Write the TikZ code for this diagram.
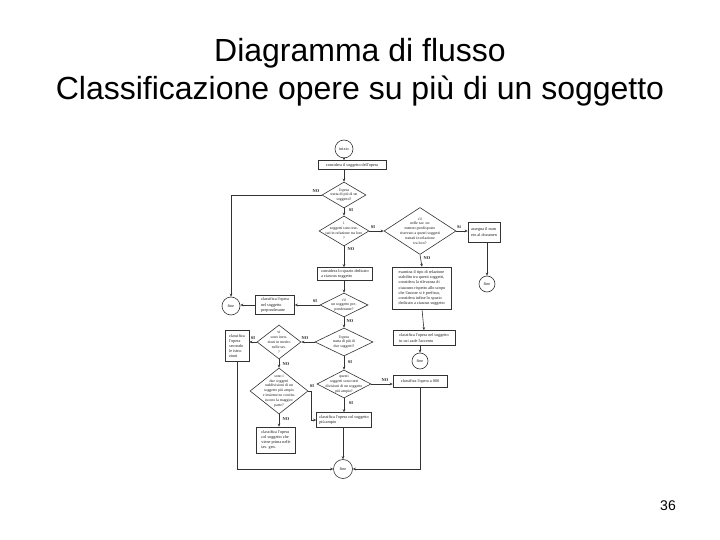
\documentclass[tikz,border=0pt]{standalone}
\usepackage{fontspec}
\setmainfont{Liberation Sans}
\newfontfamily\scanfont{Liberation Serif}
\usetikzlibrary{shapes.geometric,arrows.meta}
\begin{document}
\begin{tikzpicture}[x=1pt,y=-1pt,
  every node/.style={inner sep=0pt},
  fc/.style={font=\scanfont\fontsize{4.2}{5.2}\selectfont, text=black!90},
  fbox/.style={draw=black!80, fc, line width=0.6pt, inner xsep=1.2pt, align=left},
  dia/.style={diamond, draw=black!80, line width=0.6pt},
  dtext/.style={font=\scanfont\fontsize{3.9}{4.9}\selectfont, text=black!90, align=center},
  term/.style={circle, draw=black!80, line width=0.6pt, fc},
  lab/.style={font=\scanfont\bfseries\fontsize{4.4}{4.4}\selectfont, text=black!90},
  conn/.style={draw=black!80, line width=0.6pt, -{Stealth[length=3pt,width=2.6pt]}},
  ]
\fill[white] (0,0) rectangle (720,540);
\useasboundingbox (0,0) rectangle (720,540);

% title and page number
\node[font=\fontsize{32}{38}\selectfont, anchor=base] (t1) at (360,62) {Diagramma di flusso};
\node[font=\fontsize{32}{38}\selectfont, anchor=base] (t2) at (360,100) {Classificazione opere su più di un soggetto};
\node[font=\fontsize{14}{16}\selectfont, anchor=base] (pg) at (668,510) {36};

% terminals
\node[term, minimum size=18] (ini) at (344,149) {inizio};
\node[term, minimum size=18] (f0) at (231,306) {fine};
\node[term, minimum size=16] (f1) at (487,284) {fine};
\node[term, minimum size=16] (f2) at (420,361) {fine};
\node[term, minimum size=19] (f3) at (343,469) {fine};

% boxes
\node[fbox, minimum width=68, minimum height=9] (b1) at (352,165) {considera il soggetto dell'opera};
\node[fbox, minimum width=32, minimum height=20] (b2) at (484,232) {assegna il num\\ero al documen};
\node[fbox, minimum width=59, minimum height=42] (b3) at (422,288) {esamina il tipo di relazione\\stabilito tra questi soggetti,\\considera la rilevanza di\\ciascuno rispetto allo scopo\\che l'autore si è prefisso,\\considera infine lo spazio\\dedicato a ciascun soggetto};
\node[fbox, minimum width=62, minimum height=15] (b4) at (424,338) {classifica l'opera nel soggetto\\in cui cade l'accento};
\node[fbox, minimum width=55, minimum height=13] (b5) at (345,274) {considera lo spazio dedicato\\a ciascun soggetto};
\node[fbox, minimum width=39, minimum height=19] (b6) at (275,305) {classifica l'opera\\nel soggetto\\preponderante};
\node[fbox, minimum width=24, minimum height=31] (b7) at (237,346) {classifica\\l'opera\\secondo\\le istru-\\zioni};
\node[fbox, minimum width=39, minimum height=26] (b8) at (276,440) {classifica l'opera\\col soggetto che\\viene prima nelle\\tav. gen.};
\node[fbox, minimum width=54, minimum height=12] (b9) at (420,381) {classifica l'opera a 000};
\node[fbox, minimum width=55, minimum height=15] (b10) at (344,420) {classifica l'opera col soggetto\\più ampio};

% decisions
\node[dia, minimum width=44, minimum height=26, label={[dtext]center:{l'opera\\tratta di più di un\\soggetto?}}] (d1) at (344,195) {};
\node[dia, minimum width=50, minimum height=30, label={[dtext]center:{i\\soggetti sono trat-\\tati in relazione tra loro\\?}}] (d2) at (344,231) {};
\node[dia, minimum width=72, minimum height=47, label={[dtext]center:{c'è\\nelle tav. un\\numero predisposto\\riservato a questi soggetti\\trattati in relazione\\tra loro?}}] (d3) at (420,231) {};
\node[dia, minimum width=48, minimum height=24, label={[dtext]center:{c'è\\un soggetto pre-\\ponderante?}}] (d4) at (344,305) {};
\node[dia, minimum width=58, minimum height=28, label={[dtext]center:{l'opera\\tratta di più di\\due soggetti?}}] (d5) at (344,342) {};
\node[dia, minimum width=44, minimum height=34, label={[dtext]center:{vi\\sono istru-\\zioni in merito\\nelle tav.\\?}}] (d6) at (279,342) {};
\node[dia, minimum width=58, minimum height=46, label={[dtext]center:{sono i\\due soggetti\\suddivisioni di un\\soggetto più ampio\\e insieme ne costitu-\\iscono la maggior\\parte?}}] (d7) at (279,391) {};
\node[dia, minimum width=54, minimum height=28, label={[dtext]center:{questi\\soggetti sono tutti\\divisioni di un soggetto\\più ampio?}}] (d8) at (344,384) {};

% connectors
\draw[conn] (ini) -- (ini |- b1.north);
\draw[conn] (b1.south -| d1) -- (d1.north);
\draw[conn] (d1.west) -| (f0.north);
\draw[conn] (d1.south) -- (d2.north);
\draw[conn] (d2.east) -- (d3.west);
\draw[conn] (d3.east) -- (d3.east -| b2.west);
\draw[conn] (b2.south -| f1) -- (f1.north);
\draw[conn] (d3.south) -- (b3.north);
\draw[conn] (b3.south) -- (b4.north);
\draw[conn] (b4.south -| f2) -- (f2.north);
\draw[conn] (d2.south) -- (d2.south |- b5.north);
\draw[conn] (b5.south -| d4) -- (d4.north);
\draw[conn] (d4.west) -- (d4.west -| b6.east);
\draw[conn] (b6.west) -- (b6.west -| f0.east);
\draw[conn] (d4.south) -- (d5.north);
\draw[conn] (d5.west) -- (d6.east);
\draw[conn] (d6.west) -- (d6.west -| b7.east);
\draw[conn] (d6.south) -- (d7.north);
\draw[conn] (d7.east) -- ++(3,0) |- (b10.west);
\draw[conn] (d7.south) -- (d7.south |- b8.north);
\draw[conn] (d5.south) -- (d8.north);
\draw[conn] (d8.east) -- (d8.east -| b9.west);
\draw[conn] (d8.south) -- (b10.north);
\draw[conn] (b10.south -| f3) -- (f3.north);
\draw[conn] (b9.south) |- (f3.east);
\draw[conn] (b7.south) |- (f3.west);

% branch labels
\node[lab] (l1) at (316,191) {NO};
\node[lab] (l2) at (351,210) {SI};
\node[lab] (l3) at (373,227) {SI};
\node[lab] (l4) at (459,227) {Si};
\node[lab] (l5) at (427,258) {NO};
\node[lab] (l6) at (351,249) {NO};
\node[lab] (l7) at (315,301) {SI};
\node[lab] (l8) at (350,321) {NO};
\node[lab] (l9) at (305,338) {NO};
\node[lab] (l10) at (253,338) {SI};
\node[lab] (l11) at (286,364) {NO};
\node[lab] (l12) at (350,362) {SI};
\node[lab] (l13) at (312,386) {SI};
\node[lab] (l14) at (385,380) {NO};
\node[lab] (l15) at (351,403) {SI};
\node[lab] (l16) at (286,419) {NO};
\end{tikzpicture}
\end{document}
